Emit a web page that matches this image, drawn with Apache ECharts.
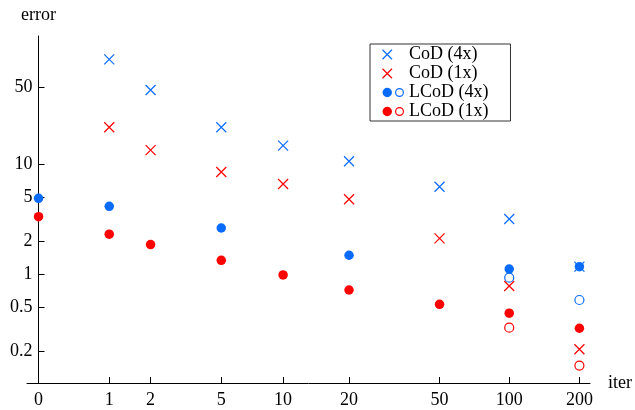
<!DOCTYPE html>
<html>
<head>
<meta charset="utf-8">
<script src="https://cdn.jsdelivr.net/npm/echarts@6/dist/echarts.min.js"></script>
<style>
  html, body { margin: 0; padding: 0; background: #fff; }
  #chart { width: 635px; height: 410px; }
</style>
</head>
<body>
<div id="chart"></div>
<script>
// iteration counts shown on the x axis
const iters = [0, 1, 2, 5, 10, 20, 50, 100, 200];
const yTicks = [0.2, 0.5, 1, 2, 5, 10, 50];

// error values, one per iteration (null = no point)
const codX4 = [null, 89.5, 47.1, 21.6, 14.7, 10.6, 6.22, 3.16, 1.165];
const codX1 = [null, 21.6, 13.4, 8.46, 6.58, 4.78, 2.11, 0.778, 0.207];
const lcodX4 = [4.88, 4.12, null, 2.62, null, 1.48, null, 1.11, 1.165];
const lcodX4Open = [null, null, null, null, null, null, null, 0.926, 0.58];
const lcodX1 = [3.32, 2.3, 1.85, 1.33, 0.98, 0.715, 0.53, 0.44, 0.321];
const lcodX1Open = [null, null, null, null, null, null, null, 0.325, 0.147];

const BLUE = "#0a6cff";
const RED = "#ff0000";
const FONT = "Liberation Serif";

// x axis is log(iter + 1)
function pts(vals) {
  const out = [];
  vals.forEach((v, i) => {
    if (v != null) out.push([iters[i] + 1, v]);
  });
  return out;
}

const crossPath = "path://M0,0.25L9.5,9.75M9.5,0.25L0,9.75M21.5,5";
const dotsPath =
  "path://M0,5A4.75,4.75,0,1,1,9.5,5A4.75,4.75,0,1,1,0,5Z" +
  "M12.5,5A4.5,4.5,0,1,1,21.5,5A4.5,4.5,0,1,1,12.5,5Z" +
  "M13.7,5A3.3,3.3,0,1,0,20.3,5A3.3,3.3,0,1,0,13.7,5Z";

function crossSeries(name, vals, color) {
  return {
    name: name,
    type: "scatter",
    symbol: "path://M0,0L10,10M10,0L0,10",
    symbolSize: 10,
    itemStyle: { color: "none", borderColor: color, borderWidth: 1.2, opacity: 1 },
    data: pts(vals),
    z: 4,
  };
}

function dotSeries(name, vals, color, open) {
  return {
    name: name,
    type: "scatter",
    symbol: "circle",
    symbolSize: open ? 9 : 9.5,
    itemStyle: open
      ? { color: "rgba(0,0,0,0)", borderColor: color, borderWidth: 1.2, opacity: 1 }
      : { color: color, borderWidth: 0, opacity: 1 },
    data: pts(vals),
    z: open ? 3 : 2,
  };
}

const chart = echarts.init(document.getElementById("chart"));

chart.setOption({
  animation: false,
  textStyle: { fontFamily: FONT },
  grid: { left: 27, right: 45, top: 36, bottom: 27, outerBoundsMode: "none" },
  xAxis: {
    type: "log",
    logBase: 10,
    min: 0.893,
    max: 223,
    name: "iter",
    nameLocation: "end",
    nameGap: 18,
    nameTextStyle: { fontFamily: FONT, fontSize: 18, color: "#000" },
    axisLine: { onZero: false, lineStyle: { color: "#000", width: 1 } },
    axisTick: {
      inside: true,
      length: 6,
      lineStyle: { color: "#000" },
      customValues: iters.map((v) => v + 1),
    },
    axisLabel: {
      margin: 8,
      fontFamily: FONT,
      fontSize: 18,
      color: "#000",
      customValues: iters.map((v) => v + 1),
      formatter: (v) => String(Math.round(v - 1)),
    },
    splitLine: { show: false },
    minorTick: { show: false },
  },
  yAxis: {
    type: "log",
    logBase: 10,
    min: 0.102,
    max: 146,
    offset: -11.5,
    name: "error",
    nameLocation: "end",
    nameGap: 12,
    nameTextStyle: { fontFamily: FONT, fontSize: 18, color: "#000", align: "center" },
    axisLine: { onZero: false, lineStyle: { color: "#000", width: 1 } },
    axisTick: {
      inside: true,
      length: 6,
      lineStyle: { color: "#000" },
      customValues: yTicks,
    },
    axisLabel: {
      margin: 6,
      fontFamily: FONT,
      fontSize: 18,
      color: "#000",
      customValues: yTicks,
      formatter: (v) => String(parseFloat(Number(v).toPrecision(6))),
    },
    splitLine: { show: false },
    minorTick: { show: false },
  },
  legend: {
    orient: "vertical",
    left: 370,
    top: 44,
    padding: [1, 22, 0, 10],
    itemGap: 0,
    itemWidth: 21.5,
    itemHeight: 9.5,
    borderColor: "#333",
    borderWidth: 1,
    backgroundColor: "#fff",
    textStyle: { fontFamily: FONT, fontSize: 18, color: "#000", lineHeight: 19 },
    data: [
      { name: "CoD (4x)", icon: crossPath, itemStyle: { color: "none", borderColor: BLUE, borderWidth: 1.2, opacity: 1 } },
      { name: "CoD (1x)", icon: crossPath, itemStyle: { color: "none", borderColor: RED, borderWidth: 1.2, opacity: 1 } },
      { name: "LCoD (4x)", icon: dotsPath, itemStyle: { color: BLUE, borderWidth: 0, opacity: 1 } },
      { name: "LCoD (1x)", icon: dotsPath, itemStyle: { color: RED, borderWidth: 0, opacity: 1 } },
    ],
  },
  series: [
    dotSeries("LCoD (4x)", lcodX4, BLUE, false),
    dotSeries("LCoD (1x)", lcodX1, RED, false),
    dotSeries("LCoD (4x)", lcodX4Open, BLUE, true),
    dotSeries("LCoD (1x)", lcodX1Open, RED, true),
    crossSeries("CoD (4x)", codX4, BLUE),
    crossSeries("CoD (1x)", codX1, RED),
  ],
});
</script>
</body>
</html>
